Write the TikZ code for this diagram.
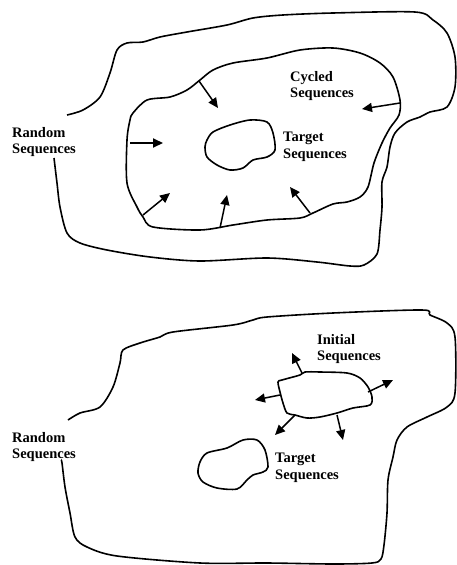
\documentclass[tikz,border=0pt]{standalone}
\usepackage{fontspec}
\setmainfont{Liberation Serif}
\usetikzlibrary{arrows.meta}

\begin{document}
\begin{tikzpicture}[x=1pt, y=-1pt,
  region/.style={line width=1.6pt, line join=round},
  lbl/.style={font=\fontsize{14.5}{16.5}\selectfont\bfseries, align=left, anchor=north west, inner sep=0pt},
  arr/.style={-{Triangle[length=10pt,width=9pt]}, line width=1.5pt}]
\useasboundingbox (0,0) rectangle (456,565);

% upper picture: cycled sequences
\draw[region] plot[smooth, tension=0.5] coordinates {(67,115) (83,110) (100,97) (110,73) (117,50) (127,43) (143,42)
  (160,37) (187,32) (227,25) (253,18) (283,15) (333,13) (415,12) (433,20) (447,33) (455,57) (455,87) (447,107)
  (430,112) (420,117) (407,122) (395,133) (390,147) (387,167) (382,182) (382,207) (380,230) (377,254) (364,265)
  (350,266) (317,262) (267,258) (200,261) (150,257) (107,250) (80,243) (67,233) (60,207) (57,183) (54,158)};
\draw[region] plot[smooth cycle, tension=0.5] coordinates {(133,113) (147,100) (170,97) (187,90) (200,80) (213,70)
  (233,63) (267,58) (300,50) (333,48) (360,53) (380,63) (393,77) (400,100) (399,115) (390,128) (382,143) (374,163)
  (368,187) (360,197) (347,202) (333,204) (313,213) (300,218) (267,220) (233,225) (200,230) (153,227) (143,217)
  (137,207) (127,183) (127,140) (130,120)};
\draw[region] plot[smooth cycle, tension=0.5] coordinates {(207,140) (213,132) (230,125) (250,120) (267,122) (273,133)
  (275,150) (267,157) (253,160) (243,168) (230,170) (217,165) (207,157) (205,147)};
\draw[arr] (199,81) -- (218,108);
\draw[arr] (400,103) -- (362,109);
\draw[arr, line width=2pt] (130,143) -- (163,143);
\draw[arr] (143,215) -- (170,193);
\draw[arr] (220,228) -- (227,195);
\draw[arr] (310,213) -- (290,187);
\node[lbl] (rand1) at (12,127) {Random\\Sequences};
\node[lbl] (cyc) at (290,71) {Cycled\\Sequences};
\node[lbl] (targ1) at (283,132) {Target\\Sequences};

% lower picture: initial sequences
\draw[region] plot[smooth, tension=0.5] coordinates {(68,420) (80,413) (100,407) (113,387) (120,363) (123,350)
  (140,343) (160,337) (173,332) (233,325) (253,320) (267,317) (333,313) (422,310) (430,315) (447,323) (455,337)
  (455,393) (447,407) (427,417) (407,427) (397,440) (393,457) (388,480) (387,513) (384,545) (381,559) (372,563)
  (333,564) (267,563) (200,563) (117,556) (87,547) (75,537) (70,513) (65,487) (62,463) (61,460)};
\draw[region] plot[smooth cycle, tension=0.5] coordinates {(278,382) (282,380) (300,375) (305,372) (320,372) (347,373)
  (360,378) (368,387) (372,397) (370,405) (353,408) (337,413) (320,417) (307,418) (295,415) (287,413) (283,403) (280,392)};
\draw[region] plot[smooth cycle, tension=0.5] coordinates {(200,462) (207,453) (227,448) (243,440) (257,440) (265,450)
  (268,467) (263,472) (253,475) (247,480) (237,489) (217,488) (203,482) (198,473)};
\draw[arr] (302,373) -- (292,353);
\draw[arr] (368,392) -- (393,380);
\draw[arr] (280,395) -- (255,400);
\draw[arr] (295,415) -- (275,435);
\draw[arr] (337,415) -- (343,440);
\node[lbl] (rand2) at (12,432) {Random\\Sequences};
\node[lbl] (init) at (317,334) {Initial\\Sequences};
\node[lbl] (targ2) at (275,453) {Target\\Sequences};
\end{tikzpicture}
\end{document}
